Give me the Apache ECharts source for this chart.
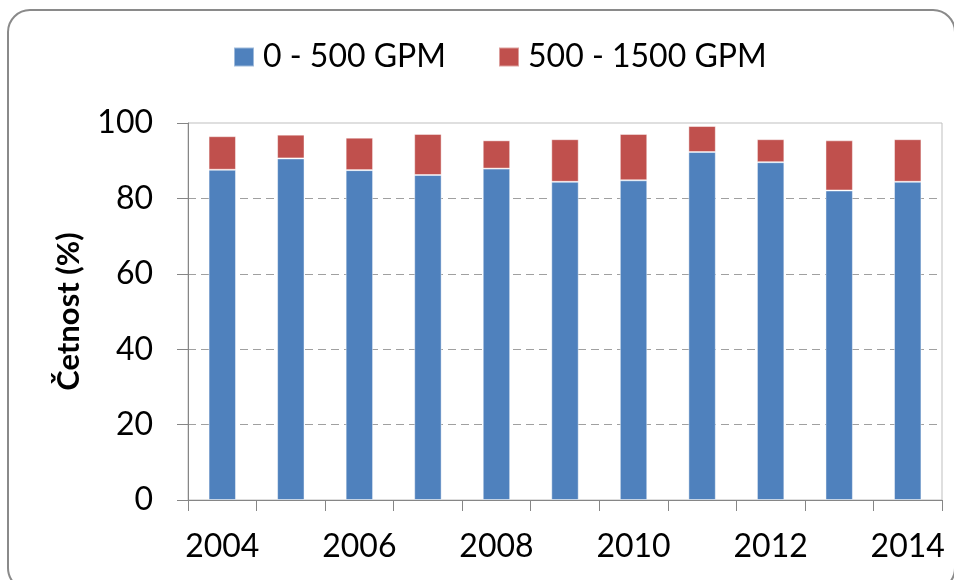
<!DOCTYPE html>
<html>
<head>
<meta charset="utf-8">
<script src="https://cdn.jsdelivr.net/npm/echarts@6/dist/echarts.min.js"></script>
<style>
html,body{margin:0;padding:0;background:#fff;}
#chart{width:954px;height:580px;}
</style>
</head>
<body>
<div id="chart"></div>
<script>
const years = ['2004','2005','2006','2007','2008','2009','2010','2011','2012','2013','2014'];
const low = [87.6, 90.6, 87.5, 86.2, 87.9, 84.4, 84.8, 92.3, 89.6, 82.1, 84.4];
const high = [8.9, 6.3, 8.6, 10.9, 7.5, 11.3, 12.3, 6.9, 6.1, 13.3, 11.3];
const seriesNames = ['0 - 500 GPM', '500 - 1500 GPM'];
const yTitle = 'Četnost (%)';

const FONT = 'Lato, "Liberation Sans", sans-serif';
const chart = echarts.init(document.getElementById('chart'), null, {renderer: 'canvas'});
chart.setOption({
  animation: false,
  graphic: [{
    type: 'rect',
    shape: {x: 8, y: 10, width: 947, height: 580, r: 22},
    style: {fill: 'none', stroke: '#8a8a8a', lineWidth: 2},
    z: 100
  }],
  legend: {
    left: 228,
    top: 36,
    itemWidth: 20,
    itemHeight: 19,
    itemGap: 52,
    icon: 'rect',
    textStyle: {fontFamily: FONT, fontSize: 32, color: '#000', padding: [0, 0, 0, 4]},
    data: seriesNames
  },
  grid: {
    left: 188, right: 12, top: 123, bottom: 80,
    show: true, borderColor: '#bfbfbf', borderWidth: 1,
    containLabel: false
  },
  xAxis: {
    type: 'category',
    data: years,
    boundaryGap: true,
    axisLine: {lineStyle: {color: '#868686', width: 1}},
    axisTick: {show: true, interval: 0, length: 11, lineStyle: {color: '#868686'}},
    axisLabel: {interval: 1, fontFamily: FONT, fontSize: 32, color: '#000', margin: 31}
  },
  yAxis: {
    type: 'value',
    min: 0, max: 100, interval: 20,
    name: yTitle,
    nameLocation: 'middle',
    nameGap: 104,
    nameTextStyle: {fontFamily: FONT, fontSize: 31, fontWeight: 'bold', color: '#000'},
    axisLine: {show: true, lineStyle: {color: '#868686', width: 1}},
    axisTick: {show: true, length: 11, lineStyle: {color: '#868686'}},
    axisLabel: {fontFamily: FONT, fontSize: 32, color: '#000', margin: 35},
    splitLine: {show: true, showMaxLine: false, lineStyle: {color: '#a0a0a0', type: [8, 5], width: 1}}
  },
  series: [
    {
      name: seriesNames[0], type: 'bar', stack: 'a', data: low, barWidth: '40%',
      itemStyle: {color: '#4F81BD', borderColor: 'rgba(255,255,255,0.45)', borderWidth: 1}
    },
    {
      name: seriesNames[1], type: 'bar', stack: 'a', data: high, barWidth: '40%',
      itemStyle: {color: '#C0504D', borderColor: 'rgba(255,255,255,0.45)', borderWidth: 1}
    }
  ]
});
</script>
</body>
</html>
